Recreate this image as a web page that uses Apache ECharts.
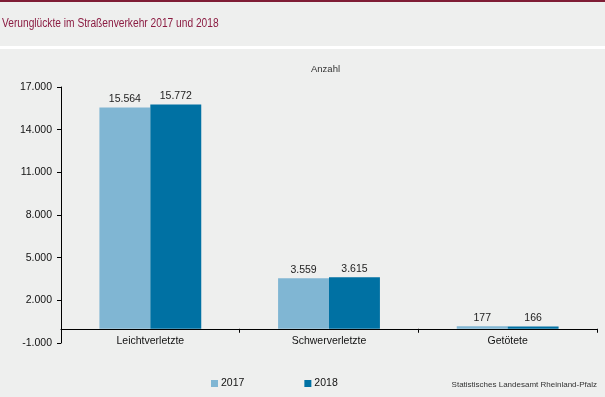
<!DOCTYPE html>
<html>
<head>
<meta charset="utf-8">
<script src="https://cdn.jsdelivr.net/npm/echarts@6/dist/echarts.min.js"></script>
<style>
  html, body { margin: 0; padding: 0; background: #eeefee; }
  #chart { width: 605px; height: 397px; }
</style>
</head>
<body>
<div id="chart"></div>
<script>
const categories = ['Leichtverletzte', 'Schwerverletzte', 'Getötete'];
const values2017 = [15564, 3559, 177];
const values2018 = [15772, 3615, 166];
const seriesNames = ['2017', '2018'];

const fmt = v => {
  const s = Math.abs(v).toString().replace(/\B(?=(\d{3})+(?!\d))/g, '.');
  return (v < 0 ? '-' : '') + s;
};

const chart = echarts.init(document.getElementById('chart'));

const barLabel = {
  show: true,
  position: 'top',
  distance: 3,
  color: '#222',
  fontSize: 10.5,
  formatter: p => fmt(p.value)
};

chart.setOption({
  backgroundColor: '#eeefee',
  animation: false,
  textStyle: { fontFamily: 'Liberation Sans, Arial, sans-serif' },
  graphic: [
    { type: 'rect', left: 0, top: 0, shape: { width: 605, height: 2 }, style: { fill: '#7f1d35' } },
    { type: 'rect', left: 0, top: 46, shape: { width: 605, height: 3 }, style: { fill: '#ffffff' } },
    {
      // Titel etwas gestaucht, wie im Original
      type: 'text', x: 2, y: 18, scaleX: 0.85,
      style: { text: 'Verunglückte im Straßenverkehr 2017 und 2018', fill: '#8b1c42', fontSize: 12, fontFamily: 'Liberation Sans, Arial, sans-serif' }
    },
    {
      type: 'text', left: 311, top: 64,
      style: { text: 'Anzahl', fill: '#333', fontSize: 9.5, fontFamily: 'Liberation Sans, Arial, sans-serif' }
    },
    {
      type: 'text', right: 8, top: 381,
      style: { text: 'Statistisches Landesamt Rheinland-Pfalz', fill: '#333', fontSize: 8, fontFamily: 'Liberation Sans, Arial, sans-serif' }
    }
  ],
  legend: {
    left: 206,
    top: 373,
    itemWidth: 7,
    itemHeight: 7,
    itemGap: 60,
    icon: 'rect',
    textStyle: { fontSize: 10.5, color: '#111', padding: [0, 0, 0, -2] },
    data: seriesNames
  },
  grid: { left: 61, right: 8, top: 87, bottom: 54 },
  xAxis: {
    type: 'category',
    data: categories,
    axisLine: { onZero: true, lineStyle: { color: '#000', width: 1 } },
    axisTick: { show: true, alignWithLabel: false, length: 4, lineStyle: { color: '#000' } },
    axisLabel: { color: '#111', fontSize: 10.5, margin: -7 }
  },
  yAxis: {
    type: 'value',
    min: -1000,
    max: 17000,
    interval: 3000,
    axisLine: { show: true, lineStyle: { color: '#000' } },
    axisTick: { show: true, length: 4, lineStyle: { color: '#000' } },
    splitLine: { show: false },
    axisLabel: { color: '#111', fontSize: 10.5, margin: 9, formatter: v => fmt(v) }
  },
  series: [
    {
      name: seriesNames[0],
      type: 'bar',
      data: values2017,
      barGap: '0%',
      barCategoryGap: '43%',
      itemStyle: { color: '#80b6d3' },
      label: barLabel
    },
    {
      name: seriesNames[1],
      type: 'bar',
      data: values2018,
      itemStyle: { color: '#0071a3' },
      label: barLabel
    }
  ]
});
</script>
</body>
</html>
